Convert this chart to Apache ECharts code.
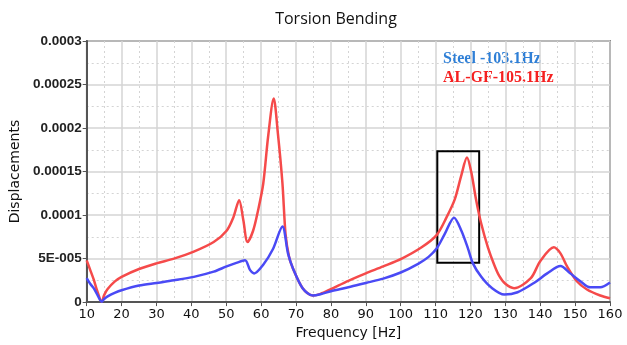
<!DOCTYPE html>
<html><head><meta charset="utf-8">
<script src="https://cdn.jsdelivr.net/npm/echarts@6/dist/echarts.min.js"></script>
<style>html,body{margin:0;padding:0;background:#fff}#c{width:627px;height:345px}</style>
</head><body><div id="c"></div>
<script>
const redFreq = [10,11,12,13,14.3,15,16,18,20,25,30,35,40.7,46.4,50.1,52,53.7,54.9,56.1,57.7,59.1,60.6,62,63.6,64.8,66.1,67,68,69.1,71.9,74.8,77,80,85,90,95,100.3,106,110.3,113.1,115.5,117.4,119,120.2,121.6,123.1,125,126.8,128.2,130,132.5,137.3,140,143.9,145.8,147.7,150.5,153.4,157.2,160];
const redVals = [4.8e-5,3.7e-5,2.6e-5,1.3e-5,0.05e-5,0.8e-5,1.5e-5,2.35e-5,2.9e-5,3.8e-5,4.45e-5,5.0e-5,5.8e-5,6.9e-5,8.2e-5,9.7e-5,11.7e-5,9.4e-5,6.9e-5,8.2e-5,10.5e-5,13.6e-5,19.0e-5,23.4e-5,19.4e-5,13.7e-5,7.8e-5,5.2e-5,3.9e-5,1.6e-5,0.76e-5,0.95e-5,1.5e-5,2.45e-5,3.3e-5,4.1e-5,5.0e-5,6.3e-5,7.7e-5,9.7e-5,11.8e-5,14.6e-5,16.6e-5,15.0e-5,11.8e-5,9.0e-5,6.3e-5,4.3e-5,3.05e-5,2.1e-5,1.6e-5,2.75e-5,4.7e-5,6.3e-5,5.6e-5,4.1e-5,2.4e-5,1.45e-5,0.76e-5,0.45e-5];
const blueFreq = [10,11,12,13,14.3,15,16,18,20,25,30,35,40.7,46.4,50.1,52.9,55.4,56.8,58,60.6,63.4,66.1,67.7,69.1,71.9,74.8,77,80,85,90,95,100,105,108,110.3,112.6,115.3,117.4,119.3,120.7,123.1,125.9,129.7,133.5,138.2,142,145.8,148.6,151.5,154.3,157.2,160];
const blueVals = [2.75e-5,2.1e-5,1.6e-5,0.9e-5,0.05e-5,0.35e-5,0.65e-5,1.05e-5,1.36e-5,1.9e-5,2.2e-5,2.5e-5,2.9e-5,3.5e-5,4.1e-5,4.5e-5,4.8e-5,3.7e-5,3.3e-5,4.3e-5,6.1e-5,8.7e-5,5.6e-5,3.9e-5,1.6e-5,0.76e-5,0.9e-5,1.25e-5,1.7e-5,2.2e-5,2.7e-5,3.4e-5,4.4e-5,5.2e-5,6.15e-5,7.8e-5,9.7e-5,8.2e-5,6.15e-5,4.45e-5,2.9e-5,1.7e-5,0.87e-5,1.13e-5,2.2e-5,3.3e-5,4.15e-5,3.3e-5,2.4e-5,1.7e-5,1.7e-5,2.25e-5];
const yTickLabels = ["0","5E-005","0.0001","0.00015","0.0002","0.00025","0.0003"];
const boxCorners = [[110.5, 4.53e-5],[122.5, 17.32e-5]];
const legendTexts = ["Steel -103.1Hz","AL-GF-105.1Hz"];

const chart = echarts.init(document.getElementById('c'));
const pairs = (xs, ys) => xs.map((x,i)=>[x, ys[i]]);
chart.setOption({
  animation:false,
  backgroundColor:'#fff',
  title:{text:'Torsion Bending',left:331,top:6,textAlign:'center',
    textStyle:{fontFamily:'Open Sans',fontSize:16,fontWeight:'normal',color:'#111'}},
  grid:{left:82,right:17,top:41,bottom:39,show:true,borderColor:'#333',borderWidth:1.5},
  xAxis:{type:'value',min:10,max:160,interval:10,
    name:'Frequency [Hz]',nameLocation:'middle',nameGap:23,
    nameTextStyle:{fontFamily:'DejaVu Sans',fontSize:14,color:'#111'},
    axisLine:{show:true,lineStyle:{color:'#555',width:2}},
    axisTick:{show:true,length:4,lineStyle:{color:'#555'}},
    axisLabel:{fontFamily:'DejaVu Sans',fontSize:13,color:'#111',margin:6},
    splitLine:{show:true,lineStyle:{color:'#d4d4d4',width:1.5}},
    minorTick:{show:false,splitNumber:2},
    minorSplitLine:{show:true,lineStyle:{color:'#d4d4d4',type:[2,3],width:1}}},
  yAxis:{type:'value',min:0,max:0.0003,interval:0.00005,
    name:'Displacements',nameLocation:'middle',nameGap:64,
    nameTextStyle:{fontFamily:'DejaVu Sans',fontSize:14,color:'#111'},
    axisLine:{show:true,lineStyle:{color:'#555',width:2}},
    axisTick:{show:true,length:4,lineStyle:{color:'#555'}},
    axisLabel:{fontFamily:'Liberation Sans',fontSize:13.5,fontWeight:'bold',color:'#222',margin:5,
      formatter:v=>yTickLabels[Math.round(v/0.00005)]},
    splitLine:{show:true,lineStyle:{color:'#d4d4d4',width:1.5}},
    minorTick:{show:false,splitNumber:2},
    minorSplitLine:{show:true,lineStyle:{color:'#d4d4d4',type:[2,3],width:1}}},
  series:[
    {type:'line',data:pairs(blueFreq,blueVals),smooth:0.3,showSymbol:false,
      lineStyle:{color:'#4a4af5',width:2.5},z:3},
    {type:'line',data:pairs(redFreq,redVals),smooth:0.3,showSymbol:false,
      lineStyle:{color:'#f54a4a',width:2.5},z:2,
      markArea:{silent:true,itemStyle:{color:'rgba(0,0,0,0)',borderColor:'#000',borderWidth:2},
        data:[[{coord:boxCorners[0]},{coord:boxCorners[1]}]]}}
  ],
  graphic:[
    {type:'text',left:443,top:51,style:{text:legendTexts[0],fontFamily:'Liberation Serif',fontWeight:'bold',fontSize:16,fill:'#2f7fd6'}},
    {type:'text',left:443,top:70,style:{text:legendTexts[1],fontFamily:'Liberation Serif',fontWeight:'bold',fontSize:16,fill:'#f52020'}}
  ]
});
</script></body></html>
